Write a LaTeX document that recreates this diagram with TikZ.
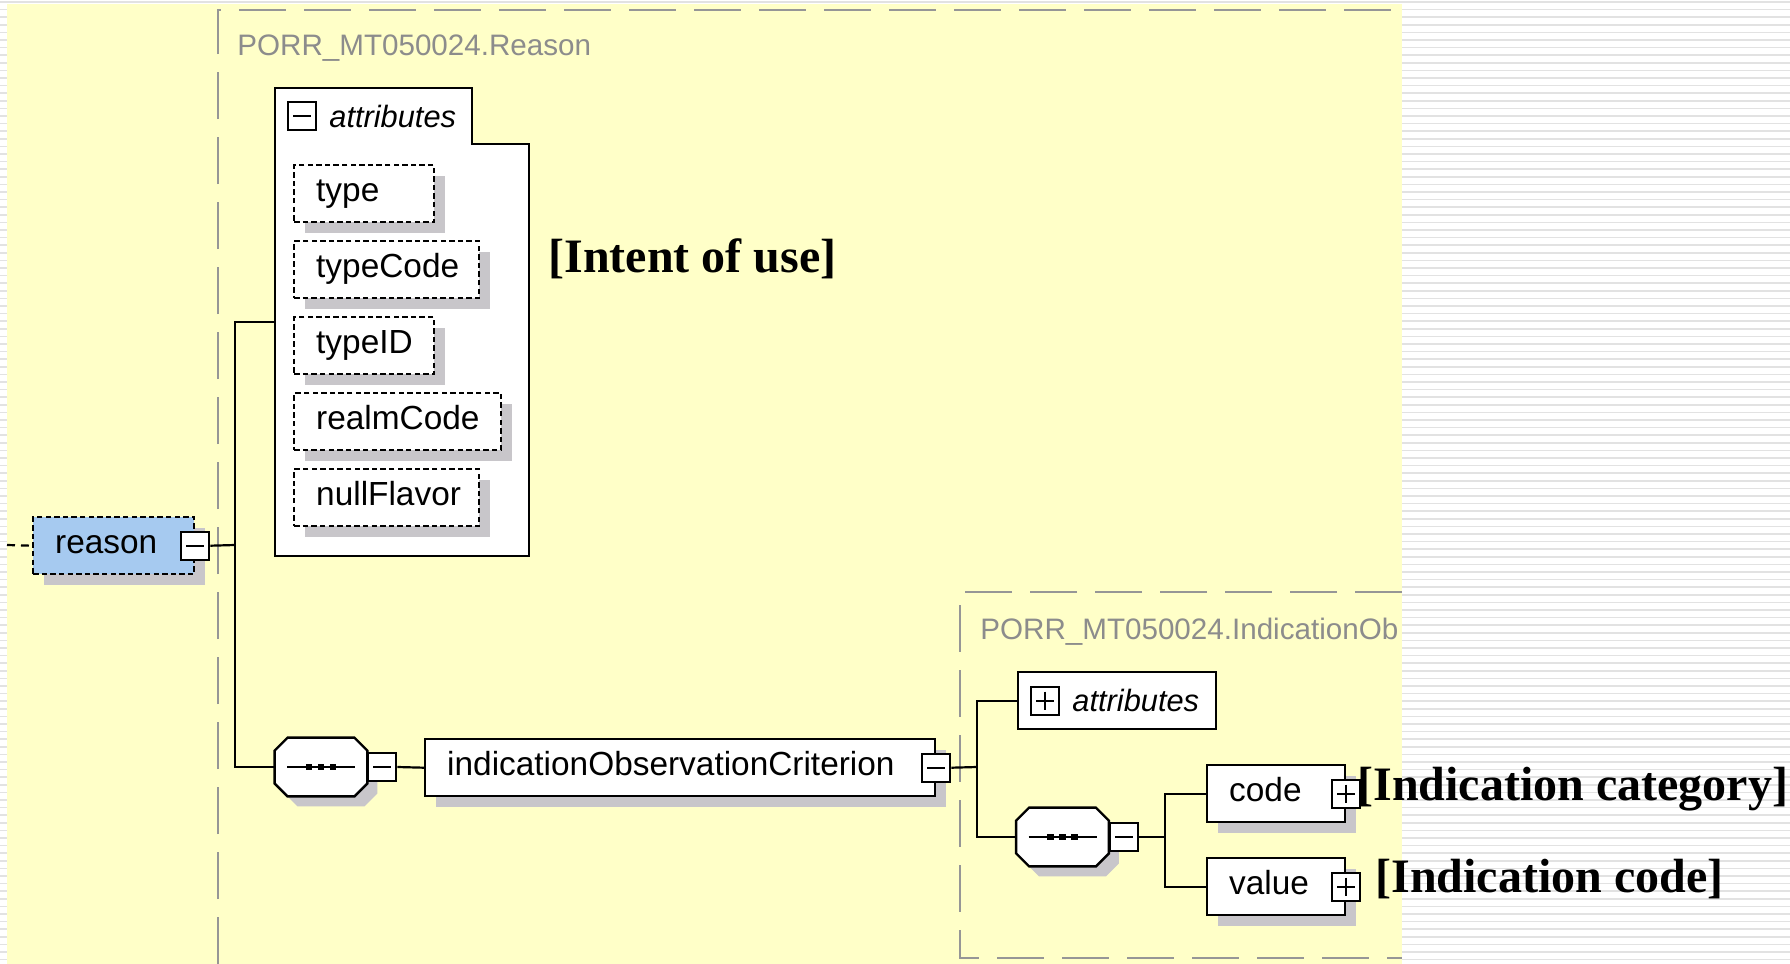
\documentclass[tikz,border=0pt]{standalone}
\usepackage{fontspec}
\setmainfont{Liberation Serif}
\setsansfont{Liberation Sans}
\usepackage{tikz}
\usetikzlibrary{positioning, shadows}
\definecolor{xs-yellow}{RGB}{255,255,200}
\definecolor{xs-blue}{RGB}{166,202,240}
\definecolor{xs-shadow}{RGB}{200,198,202}
\definecolor{xs-frame}{RGB}{150,150,150}
\definecolor{xs-title}{RGB}{140,140,140}
\definecolor{xs-stripe}{RGB}{226,226,226}
\newcommand\xssans{\sffamily\fontsize{16.7pt}{20pt}\selectfont}
\newcommand\xsital{\sffamily\itshape\fontsize{15.4pt}{18pt}\selectfont}
\newcommand\xstitle{\sffamily\fontsize{14.8pt}{18pt}\selectfont}
\newcommand\xsnote{\rmfamily\bfseries\fontsize{24pt}{28pt}\selectfont}
\tikzset{
  xs@elem/.style={
    draw=black, fill=white, line width=1.2pt,
    anchor=north west, minimum height=28.5pt,
    inner xsep=11pt, inner ysep=0pt, align=left,
    text height=12pt, text depth=4pt, font=\xssans,
    drop shadow={shadow xshift=5.5pt, shadow yshift=-5.5pt,
                 fill=xs-shadow, opacity=1}
  },
  xs@opt/.style={xs@elem, dash pattern=on 2.7pt off 1.6pt},
  xs@seq/.style={minimum width=46pt, minimum height=29pt, inner sep=0pt},
  xs@btn/.style={draw=black, fill=white, line width=1pt,
    minimum size=14pt, inner sep=0pt},
  xs@minus/.style={xs@btn, path picture={
      \draw[line width=1pt] ([xshift=2.5pt]path picture bounding box.west)
        -- ([xshift=-2.5pt]path picture bounding box.east);}},
  xs@plus/.style={xs@btn, path picture={
      \draw[line width=1pt] ([xshift=2.5pt]path picture bounding box.west)
        -- ([xshift=-2.5pt]path picture bounding box.east);
      \draw[line width=1pt] ([yshift=-2.5pt]path picture bounding box.north)
        -- ([yshift=2.5pt]path picture bounding box.south);}},
  xs@wire/.style={line width=1.1pt, black},
  xs@frame/.style={line width=1pt, xs-frame, dash pattern=on 23.5pt off 9pt},
  xs@title/.style={font=\xstitle, text=xs-title, anchor=west, inner sep=0pt},
  xs@note/.style={font=\xsnote, anchor=base west, inner sep=0pt},
}
% octagon outline round a sequence node
\newcommand\xsoct[1]{([xshift=6.5pt]#1.north west) -- ([xshift=-6.5pt]#1.north east)
  -- ([yshift=-6.5pt]#1.north east) -- ([yshift=6.5pt]#1.south east)
  -- ([xshift=-6.5pt]#1.south east) -- ([xshift=6.5pt]#1.south west)
  -- ([yshift=6.5pt]#1.south west) -- ([yshift=-6.5pt]#1.north west) -- cycle}

\begin{document}
\begin{tikzpicture}[x=0.5pt, y=-0.5pt]
  \useasboundingbox (0,0) rectangle (1790,964);
  % page background
  \fill[white] (0,0) rectangle (1790,964);
  \foreach \k in {0,...,126}
    \draw[xs-stripe, line width=0.8pt] (0,{\k*7.6+2}) -- (1790,{\k*7.6+2});
  \fill[xs-yellow] (7,4) rectangle (1402,964);

  % group frames
  \draw[xs@frame] (218,964) -- (218,10) -- (1402,10);
  \node[xs@title] (lbl-reason) at (237,48) {PORR\_MT050024.Reason};
  \draw[xs@frame] (1402,592) -- (960,592) -- (960,958) -- (1402,958);
  \begin{scope}
    \clip (960,592) rectangle (1402,958);
    \node[xs@title] (lbl-ind) at (980,632) {PORR\_MT050024.IndicationOb};
  \end{scope}

  % attributes of reason
  \draw[line width=1.2pt, fill=white] (275,556) -- (275,88) -- (472,88)
    -- (472,144) -- (529,144) -- (529,556) -- cycle;
  \node[xs@minus] (attr-btn) at (302,116) {};
  \node[font=\xsital, inner sep=0pt, right=6pt of attr-btn] (attr-lbl) {attributes};
  \node[xs@opt, text width=48pt]   (a-type)     at (293,164) {type};
  \node[xs@opt, text width=70.5pt] (a-typecode) at (293,240) {typeCode};
  \node[xs@opt, text width=48pt]   (a-typeid)   at (293,316) {typeID};
  \node[xs@opt, text width=81.5pt] (a-realm)    at (293,392) {realmCode};
  \node[xs@opt, text width=70.5pt] (a-null)     at (293,468) {nullFlavor};
  \coordinate (attr-in) at (275,322);

  % reason element
  \node[xs@opt, fill=xs-blue, text width=58.5pt] (rsn) at (32,516) {reason};
  \node[xs@minus] (rsn-btn) at (rsn.east) {};
  \coordinate (feed) at (7,545);
  \coordinate (j1) at (235,545);
  \draw[xs@wire, dash pattern=on 4pt off 3pt] (feed) -- (rsn.west);

  \node[xs@seq] (seq1) at (321,767) {};
  \node[xs@seq] (seq2) at (1062.5,837) {};
  \foreach \s in {seq1, seq2} {
    \fill[xs-shadow, transform canvas={shift={(5pt,-5pt)}}] \xsoct{\s};
    \draw[line width=1.2pt, fill=white] \xsoct{\s};
    \draw[xs@wire] ([xshift=-17pt]\s.center) -- ([xshift=17pt]\s.center);
    \foreach \d in {-6pt, 0pt, 6pt}
      \fill ([xshift=\d]\s.center) +(-1.6pt,-1.6pt) rectangle +(1.6pt,1.6pt);
  }

  \node[xs@minus, anchor=west] (seq1-btn) at (seq1.east) {};
  \node[xs@elem, text width=233pt] (ioc) at (424,738) {indicationObservationCriterion};
  \node[xs@minus] (ioc-btn) at (ioc.east) {};

  \draw[xs@wire] (rsn-btn.east) -- (j1);
  \draw[xs@wire] (attr-in) -| (j1) |- (seq1.west);
  \draw[xs@wire] (seq1-btn.east) -- (ioc.west);

  % indication observation criterion
  \coordinate (j2) at (977,767);
  \node[draw, line width=1.2pt, fill=white, anchor=north west,
        minimum width=99pt, minimum height=28.5pt] (iattrs) at (1017,671) {};
  \node[xs@plus, right=6.5pt of iattrs.west] (iattr-btn) {};
  \node[font=\xsital, inner sep=0pt, right=6pt of iattr-btn] (iattr-lbl) {attributes};

  \node[xs@minus, anchor=west] (seq2-btn) at (seq2.east) {};
  \coordinate (j3) at (1165,837);
  \node[xs@elem, text width=47pt] (code)  at (1206,764) {code};
  \node[xs@plus] (code-btn) at (code.east) {};
  \node[xs@elem, text width=47pt] (value) at (1206,857) {value};
  \node[xs@plus] (value-btn) at (value.east) {};

  \draw[xs@wire] (ioc-btn.east) -- (j2);
  \draw[xs@wire] (iattrs.west) -| (j2) |- (seq2.west);
  \draw[xs@wire] (seq2-btn.east) -- (j3);
  \draw[xs@wire] (code.west) -| (j3) |- (value.west);

  % notes
  \node[xs@note] (n-intent) at (548,272) {[Intent of use]};
  \node[xs@note] (n-cat)    at (1357,800) {[Indication category]};
  \node[xs@note] (n-code)   at (1375,892) {[Indication code]};
\end{tikzpicture}
\end{document}
